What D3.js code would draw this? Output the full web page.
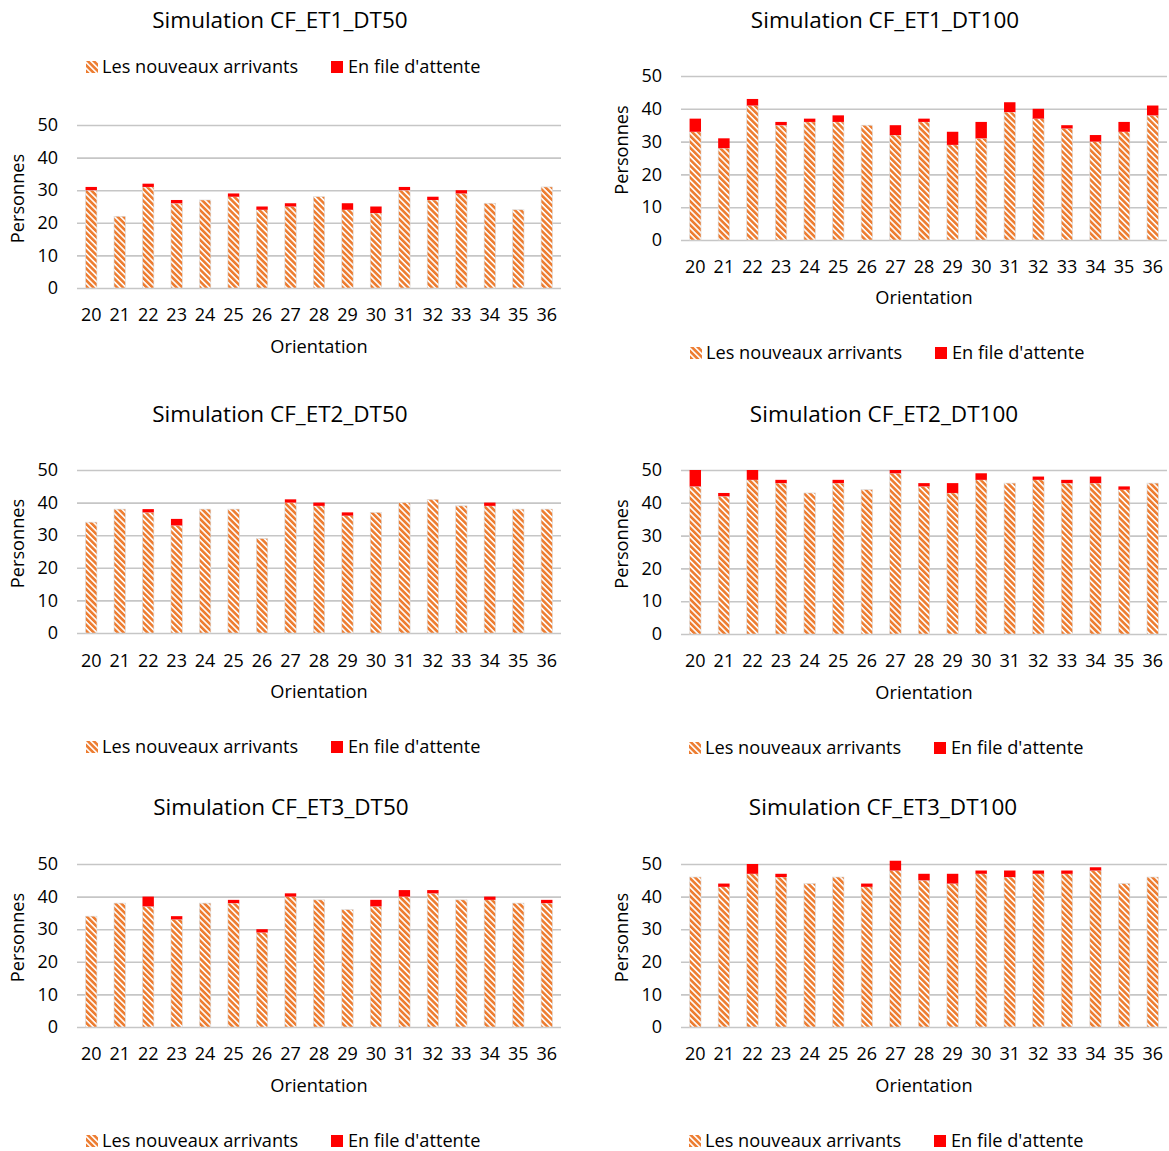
<!DOCTYPE html>
<html><head><meta charset="utf-8">
<script src="https://cdn.jsdelivr.net/npm/d3@7"></script>
<style>
body{margin:0;background:#fff;}
svg text{font-family:"Open Sans",sans-serif;fill:#000;}
</style></head>
<body><svg id="c" width="1169" height="1151"></svg>
<script>
const categories = ["20","21","22","23","24","25","26","27","28","29","30","31","32","33","34","35","36"];
const yTicks = [0,10,20,30,40,50];
const seriesNames = ["Les nouveaux arrivants","En file d'attente"];
const titles = ["Simulation CF_ET1_DT50","Simulation CF_ET1_DT100","Simulation CF_ET2_DT50","Simulation CF_ET2_DT100","Simulation CF_ET3_DT50","Simulation CF_ET3_DT100"];

const arrivals_ET1_DT50  = [30,22,31,26,27,28,24,25,28,24,23,30,27,29,26,24,31];
const queue_ET1_DT50     = [1,0,1,1,0,1,1,1,0,2,2,1,1,1,0,0,0];
const arrivals_ET1_DT100 = [33,28,41,35,36,36,35,32,36,29,31,39,37,34,30,33,38];
const queue_ET1_DT100    = [4,3,2,1,1,2,0,3,1,4,5,3,3,1,2,3,3];
const arrivals_ET2_DT50  = [34,38,37,33,38,38,29,40,39,36,37,40,41,39,39,38,38];
const queue_ET2_DT50     = [0,0,1,2,0,0,0,1,1,1,0,0,0,0,1,0,0];
const arrivals_ET2_DT100 = [45,42,47,46,43,46,44,49,45,43,47,46,47,46,46,44,46];
const queue_ET2_DT100    = [5,1,3,1,0,1,0,1,1,3,2,0,1,1,2,1,0];
const arrivals_ET3_DT50  = [34,38,37,33,38,38,29,40,39,36,37,40,41,39,39,38,38];
const queue_ET3_DT50     = [0,0,3,1,0,1,1,1,0,0,2,2,1,0,1,0,1];
const arrivals_ET3_DT100 = [46,43,47,46,44,46,43,48,45,44,47,46,47,47,48,44,46];
const queue_ET3_DT100    = [0,1,3,1,0,0,1,3,2,3,1,2,1,1,1,0,0];

const panelData = [
  [arrivals_ET1_DT50, queue_ET1_DT50],
  [arrivals_ET1_DT100, queue_ET1_DT100],
  [arrivals_ET2_DT50, queue_ET2_DT50],
  [arrivals_ET2_DT100, queue_ET2_DT100],
  [arrivals_ET3_DT50, queue_ET3_DT50],
  [arrivals_ET3_DT100, queue_ET3_DT100]
];

// layout (positions only)
const layouts = [
  {x0:77, x1:561, yTop:125, yBot:288, titleX:280, titleY:20, legY:67, legX:86, xlabY:315, oriY:347, persX:18},
  {x0:681,x1:1167,yTop:76,  yBot:240, titleX:885, titleY:20, legY:353, legX:690, xlabY:267, oriY:298, persX:622},
  {x0:77, x1:561, yTop:470, yBot:633, titleX:280, titleY:414, legY:747, legX:86, xlabY:661, oriY:692, persX:18},
  {x0:681,x1:1167,yTop:470, yBot:634, titleX:884, titleY:414, legY:748, legX:689, xlabY:661, oriY:693, persX:622},
  {x0:77, x1:561, yTop:864, yBot:1027,titleX:281, titleY:807, legY:1141, legX:86, xlabY:1054, oriY:1086, persX:18},
  {x0:681,x1:1167,yTop:864, yBot:1027,titleX:883, titleY:807, legY:1141, legX:689, xlabY:1054, oriY:1086, persX:622}
];

const svg = d3.select("#c");
const defs = svg.append("defs");
const pat = defs.append("pattern").attr("id","hatch").attr("patternUnits","userSpaceOnUse")
  .attr("width",4.2).attr("height",4.2).attr("patternTransform","rotate(-45)");
pat.append("rect").attr("width",4.2).attr("height",4.2).attr("fill","#fff");
pat.append("rect").attr("width",2.6).attr("height",4.2).attr("fill","#ED7D31");

const orange = "url(#hatch)", red = "#FF0000";

layouts.forEach((L,i)=>{
  const [arr, que] = panelData[i];
  const g = svg.append("g");
  const x = d3.scaleBand().domain(categories).range([L.x0, L.x1]).paddingInner(0.6).paddingOuter(0.3);
  const y = d3.scaleLinear().domain([0,50]).range([L.yBot, L.yTop]);

  // grid + y axis
  const ya = g.append("g").attr("transform",`translate(${L.x0},0)`)
    .call(d3.axisLeft(y).tickValues(yTicks).tickSize(-(L.x1-L.x0)).tickPadding(19));
  ya.select(".domain").remove();
  ya.selectAll(".tick line").attr("stroke","#c6c6c6").attr("stroke-width",1.6);
  ya.selectAll(".tick text").attr("font-size",18).attr("font-family","Open Sans").attr("fill","#000");

  // bars
  const stackData = categories.map((c,j)=>({c, a:arr[j], q:que[j]}));
  g.selectAll(".ba").data(stackData).join("rect")
    .attr("x",d=>x(d.c)).attr("width",x.bandwidth())
    .attr("y",d=>y(d.a)).attr("height",d=>y(0)-y(d.a))
    .attr("fill",orange).attr("stroke","#d9d9d9").attr("stroke-width",0.6);
  g.selectAll(".bq").data(stackData.filter(d=>d.q>0)).join("rect")
    .attr("x",d=>x(d.c)).attr("width",x.bandwidth())
    .attr("y",d=>y(d.a+d.q)).attr("height",d=>y(d.a)-y(d.a+d.q))
    .attr("fill",red);

  // x axis labels
  const xa = g.append("g").attr("transform",`translate(0,${L.xlabY})`)
    .call(d3.axisBottom(x).tickSize(0).tickPadding(0));
  xa.select(".domain").remove();
  xa.selectAll(".tick text").attr("font-size",18).attr("font-family","Open Sans").attr("fill","#000")
    .attr("dy","0.35em").attr("y",0);

  // title
  g.append("text").attr("x",L.titleX).attr("y",L.titleY).attr("dy","0.35em")
    .attr("text-anchor","middle").attr("font-size",22.5).text(titles[i]);
  // axis titles
  g.append("text").attr("x",(L.x0+L.x1)/2).attr("y",L.oriY).attr("dy","0.35em")
    .attr("text-anchor","middle").attr("font-size",18.2).text("Orientation");
  g.append("text").attr("transform",`translate(${L.persX},${(L.yTop+L.yBot)/2 - 8}) rotate(-90)`)
    .attr("dy","0.35em").attr("text-anchor","middle").attr("font-size",18.2).text("Personnes");

  // legend
  const lg = g.append("g").attr("transform",`translate(${L.legX},${L.legY})`);
  lg.append("rect").attr("x",0).attr("y",-6).attr("width",12).attr("height",12).attr("fill",orange);
  lg.append("text").attr("x",16).attr("dy","0.35em").attr("font-size",18.2).text(seriesNames[0]);
  lg.append("rect").attr("x",245).attr("y",-6).attr("width",12).attr("height",12).attr("fill",red);
  lg.append("text").attr("x",262).attr("dy","0.35em").attr("font-size",18.2).text(seriesNames[1]);
});
</script>
</body></html>
